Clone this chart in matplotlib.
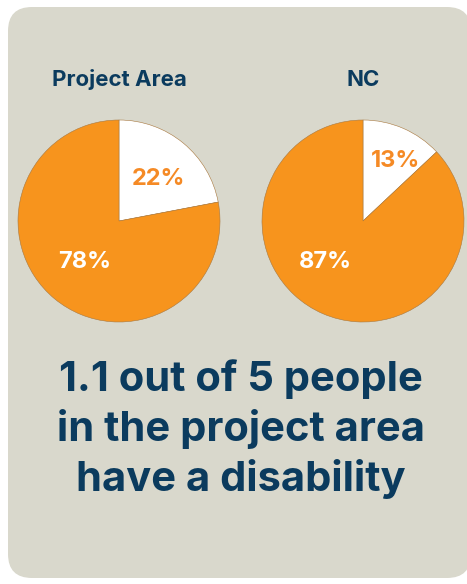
import matplotlib.pyplot as plt
import matplotlib.patches as patches

# Share of people with / without a disability
regions = ["Project Area", "NC"]
with_disability = [22, 13]
without_disability = [78, 87]
headline = "1.1 out of 5 people\nin the project area\nhave a disability"

W, H = 467, 584
CARD = "#d9d8cc"
ORANGE = "#f7941d"
ORANGE_TEXT = "#f58a25"
NAVY = "#0b3b5e"

plt.rcParams['font.family'] = ['Inter', 'DejaVu Sans']

fig = plt.figure(figsize=(W / 100, H / 100), dpi=100)
ax = fig.add_axes([0, 0, 1, 1])
ax.axis('off')

# Rounded background card (right edge just past the canvas)
card = patches.FancyBboxPatch((8, H - 578), 463, 571,
                              boxstyle="round,pad=0,rounding_size=24",
                              fc=CARD, ec="none", zorder=0)
ax.add_patch(card)

centers = [(119, H - 221), (363, H - 221)]
radius = 101
# where the small / large percentage labels sit inside each pie
small_pos = [(158, H - 179), (395, H - 161)]
large_pos = [(85, H - 262), (325, H - 262)]

for i, name in enumerate(regions):
    cx, cy = centers[i]
    ax.pie([with_disability[i], without_disability[i]], center=(cx, cy), radius=radius,
           startangle=90, counterclock=False, colors=["white", ORANGE],
           wedgeprops=dict(edgecolor="#a8783f", linewidth=0.4))
    ax.text(cx, H - 80, name, ha='center', va='center', fontsize=16,
            fontweight='bold', color=NAVY)
    ax.text(*small_pos[i], f"{with_disability[i]}%", ha='center', va='center',
            fontsize=17, fontweight='bold', color=ORANGE_TEXT)
    ax.text(*large_pos[i], f"{without_disability[i]}%", ha='center', va='center',
            fontsize=17, fontweight='bold', color="white")

ax.text(241, H - 429, headline, ha='center', va='center', fontsize=30,
        fontweight='bold', color=NAVY, linespacing=1.32)

ax.set_xlim(0, W)
ax.set_ylim(0, H)
ax.set_aspect('auto')

plt.savefig('out.png', dpi=100, facecolor='white')
plt.close()
